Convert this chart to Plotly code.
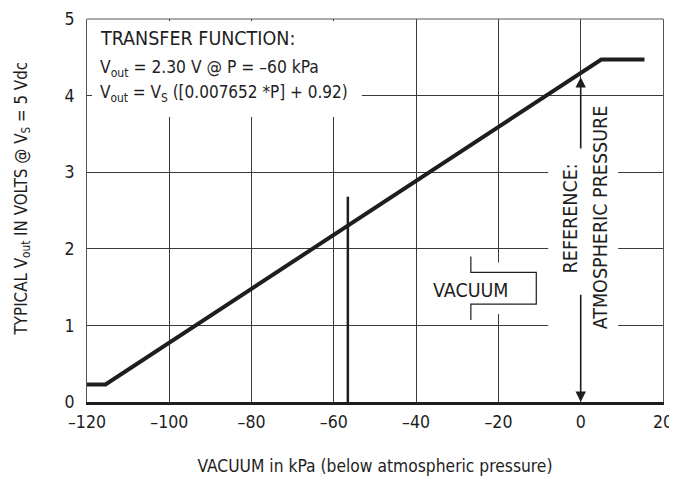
import plotly.graph_objects as go

# ---- data ----
pressure_kpa = [-120, -115.5, 5.0, 15.5]
vout_volts = [0.23, 0.23, 4.47, 4.47]

marker_kpa = [-56.6, -56.6]
marker_volts = [0, 2.68]

x_tickvals = [-120, -100, -80, -60, -40, -20, 0, 20]
x_ticktext = ["–120", "–100", "–80", "–60", "–40", "–20", "0", "20"]
y_tickvals = [0, 1, 2, 3, 4, 5]
y_ticktext = ["0", "1", "2", "3", "4", "5"]

FONT = "DejaVu Sans Condensed, Liberation Sans Narrow, sans-serif"
INK = "#1e1e1e"
CAPS = 19.5     # all-caps labels
MIXED = 17.3    # mixed-case labels

# page has an 8px body margin: figure is sized/offset to compensate
W, H = 669, 470
ML, MR, MT, MB = 79, 14, 11, 76
PW = W - ML - MR


def f(size):
    return dict(family=FONT, size=size, color=INK)


fig = go.Figure()
fig.add_trace(go.Scatter(x=pressure_kpa, y=vout_volts, mode="lines",
                         line=dict(color=INK, width=4), hoverinfo="skip", showlegend=False))
fig.add_trace(go.Scatter(x=marker_kpa, y=marker_volts, mode="lines",
                         line=dict(color=INK, width=2.5), hoverinfo="skip", showlegend=False))

shapes = []
# white masks hiding grid lines behind labels
for (x0, x1, y0, y1) in [(-119.6, -53.2, 3.72, 4.97), (-31, -12, 1.15, 1.82), (-7.9, 9.1, 0.9, 3.94)]:
    shapes.append(dict(type="rect", xref="x", yref="y", x0=x0, x1=x1, y0=y0, y1=y1,
                       fillcolor="white", line=dict(width=0), layer="between"))
# top border
shapes.append(dict(type="line", xref="paper", yref="paper", x0=0, x1=1, y0=1, y1=1,
                   line=dict(color="#555", width=1), layer="above"))
# VACUUM bracket
shapes.append(dict(type="path", xref="x", yref="y",
                   path="M -26.7,1.90 L -26.7,1.693 L -10.8,1.693 L -10.8,1.279 L -26.7,1.279 L -26.7,1.07",
                   line=dict(color=INK, width=1.2), layer="above"))

annotations = []
tf_lines = [("TRANSFER FUNCTION:", 4.75, CAPS),
            ("V<sub>out</sub> = 2.30 V @ P = –60 kPa", 4.36, MIXED),
            ("V<sub>out</sub> = V<sub>S</sub> ([0.007652 *P] + 0.92)", 4.03, 17.0)]
for txt, yy, sz in tf_lines:
    annotations.append(dict(x=-117.4, y=yy, xref="x", yref="y", text=txt, showarrow=False,
                            xanchor="left", yanchor="middle", font=f(sz)))
annotations.append(dict(x=-26.6, y=1.453, xref="x", yref="y", text="VACUUM", showarrow=False,
                        xanchor="center", yanchor="middle", font=f(CAPS)))
annotations.append(dict(x=-2.55, y=2.40, xref="x", yref="y", text="REFERENCE:", showarrow=False,
                        textangle=-90, xanchor="center", yanchor="middle", font=f(CAPS)))
annotations.append(dict(x=4.74, y=2.415, xref="x", yref="y", text="ATMOSPHERIC PRESSURE", showarrow=False,
                        textangle=-90, xanchor="center", yanchor="middle", font=f(CAPS)))
# reference arrows
annotations.append(dict(x=0, y=4.24, ax=0, ay=3.29, xref="x", yref="y", axref="x", ayref="y",
                        text="", showarrow=True, arrowhead=2, arrowsize=1.3, arrowwidth=1.6,
                        arrowcolor=INK, standoff=0, startstandoff=0))
annotations.append(dict(x=0, y=0.0, ax=0, ay=1.42, xref="x", yref="y", axref="x", ayref="y",
                        text="", showarrow=True, arrowhead=2, arrowsize=1.3, arrowwidth=1.6,
                        arrowcolor=INK, standoff=0, startstandoff=0))
# y title (page x ~22 px)
annotations.append(dict(x=(14 - ML) / PW, y=0.529, xref="paper", yref="paper",
                        text="TYPICAL V<sub>out</sub> IN VOLTS @ V<sub>S</sub> = 5 Vdc",
                        showarrow=False, textangle=-90, xanchor="center", yanchor="middle",
                        font=f(16.8)))

fig.update_layout(
    width=W, height=H,
    margin=dict(l=ML, r=MR, t=MT, b=MB, autoexpand=False),
    plot_bgcolor="white", paper_bgcolor="white",
    font=f(17.6),
    shapes=shapes, annotations=annotations,
    xaxis=dict(range=[-120, 20], tickvals=x_tickvals, ticktext=x_ticktext,
               showgrid=True, gridcolor="#3a3a3a", gridwidth=1, zeroline=False,
               showline=True, linecolor=INK, linewidth=3, automargin=False,
               ticks="inside", ticklen=5, tickcolor="#3a3a3a", ticklabelstandoff=2,
               tickfont=f(17.6),
               title=dict(text="VACUUM in kPa (below atmospheric pressure)", standoff=29,
                          font=f(17.3)),
               fixedrange=True),
    yaxis=dict(range=[0, 5], tickvals=y_tickvals, ticktext=y_ticktext,
               showgrid=True, gridcolor="#3a3a3a", gridwidth=1, zeroline=False,
               showline=True, linecolor="#555", linewidth=1, mirror="ticks", automargin=False,
               ticks="inside", ticklen=5, tickcolor="#3a3a3a", ticklabelstandoff=8,
               tickfont=f(17.6),
               fixedrange=True),
)

fig.write_html("out.html")
